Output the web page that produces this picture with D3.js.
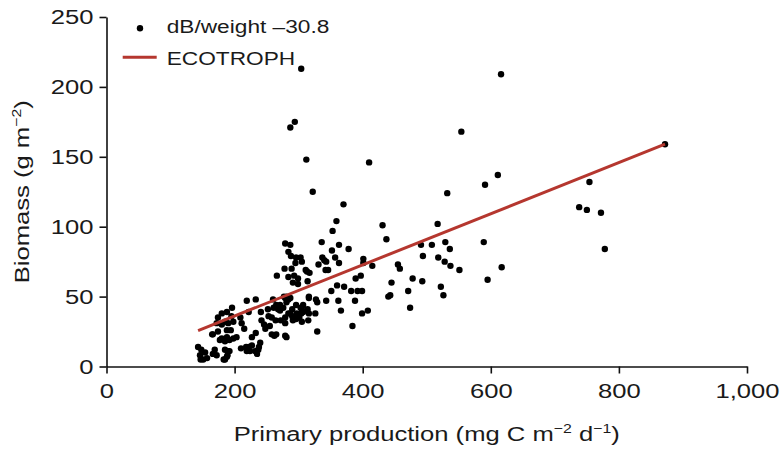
<!DOCTYPE html>
<html><head><meta charset="utf-8">
<script src="https://cdn.jsdelivr.net/npm/d3@7"></script>
<style>body{margin:0;background:#fff}svg{display:block}text{font-family:"Liberation Sans",Arial,sans-serif;fill:#1a1a1a}</style>
</head><body>
<script>
// Data: primary production (mg C m-2 d-1) vs biomass (g m-2)
const ppValues = [872,754,738,750,772,778,616,554,611,591,532,431,437,517,491,508,529,536,589,494,518,528,537,551,617,455,458,478,493,445,471,440,443,522,526,595,474,
322,370,359,353,336,352,363,378,357,337,340,343,363,331,303,305,342,346,311,317,401,401,415,397,389,360,371,316,351,382,392,399,327,329,343,362,388,307,305,307,326,366,399,408,305,329,384,
304,294,287,312,410,279,287,284,288,296,295,313,278,289,266,284,293,299,314,291,299,
260,279,281,284,281,316,219,233,196,222,241,252,261,268,271,296,303,297,304,301,290,296,279,284,290,272,279,315,316,314,253,258,264,242,246,248,195,198,209,211,215,190,188,194,203,192,185,227,233,262,265,279,281,210,218,222,227,219,224,232,237,238,240,235,192,189,185,
174,180,188,172,180,185,165,174,180,188,177,143,148,154,146,151,157,147,169,172,166,183,185,190,188,166,198,265,271,276,287,291,255,258,277,287];
const biomassValues = [159,132,114,112,110,84,209,168,137,130,124,101,91,102,87,87,89,84,89,79,78,75,72,69,71,73,70,63,61,60,54,50,51,57,51,62,42,
125,116,104,97,89,83,87,84,78,78,76,75,74,73,78,75,69,69,69,67,77,74,72,65,63,58,57,50,54,54,54,54,48,46,47,47,47,44,41,39,38,40,38,40,32,25,29,
213,175,171,148,146,88,87,82,79,78,74,68,70,70,65,64,65,63,61,60,59,
48,49,50,48,46,49,47,48,42,39,39,41,42,41,44,44,42,38,38,35,36,34,35,38,41,33,31,33,38,41,36,35,33,33,30,27,36,32,35,31,27,31,26,26,21,19,18,21,24,22,23,22,21,13,14,14,15,11,11,11,12,14,17,9,11,8,5,
35,38,39,31,30,32,23,25,20,21,19,14,12,10,8,5,6,5,12,8,9,5,12,11,7,23,20,44,40,42,38,33,29,23,50,49];
const ecotrophX = [143, 872];
const ecotrophY = [25.7, 159];
const xTickValues = [0,200,400,600,800,1000];
const yTickValues = [0,50,100,150,200,250];
const legendLabels = ["dB/weight \u201330.8", "ECOTROPH"];

const W = 781, H = 449, SX = 1.22;
const svg = d3.select("body").append("svg").attr("width", W).attr("height", H);
const x = d3.scaleLinear().domain([0, 1000]).range([106.5, 747]);
const y = d3.scaleLinear().domain([0, 250]).range([366.5, 17]);

// points
svg.append("g").selectAll("circle").data(ppValues.map((v,i)=>[v, biomassValues[i]]))
  .join("circle").attr("cx", d=>x(d[0])).attr("cy", d=>y(d[1])).attr("r", 3.2).attr("fill", "#000");

// ECOTROPH line
svg.append("path").datum(ecotrophX.map((v,i)=>[v, ecotrophY[i]]))
  .attr("d", d3.line().x(d=>x(d[0])).y(d=>y(d[1])))
  .attr("stroke", "#b5372f").attr("stroke-width", 3).attr("fill", "none");

// axes
const gx = svg.append("g").attr("transform", `translate(0,${y(0)})`)
  .call(d3.axisBottom(x).tickValues(xTickValues).tickFormat(d3.format(",")).tickSizeInner(7).tickSizeOuter(0).tickPadding(8));
const gy = svg.append("g").attr("transform", `translate(${x(0)},0)`)
  .call(d3.axisLeft(y).tickValues(yTickValues).tickSizeInner(7).tickSizeOuter(0).tickPadding(6));
[gx, gy].forEach(g => {
  g.select(".domain").attr("stroke", "#111").attr("stroke-width", 1.6);
  g.selectAll(".tick line").attr("stroke", "#111").attr("stroke-width", 1.6);
  g.selectAll("text").attr("font-size", 21).attr("fill", "#1a1a1a").attr("font-family", "Liberation Sans, Arial, sans-serif");
});
gx.selectAll(".tick text").attr("transform", `scale(${SX},1)`).attr("dy", "0.78em");
gy.selectAll(".tick text").attr("x", -13 / SX).attr("transform", `scale(${SX},1)`);

// legend
svg.append("circle").attr("cx", 140).attr("cy", 28.3).attr("r", 3.2).attr("fill", "#000");
svg.append("line").attr("x1", 122.7).attr("x2", 156.7).attr("y1", 57.3).attr("y2", 57.3)
  .attr("stroke", "#b5372f").attr("stroke-width", 3);
[[legendLabels[0], 33], [legendLabels[1], 64.5]].forEach(([t, yy]) => {
  svg.append("text").attr("transform", `translate(166.7,${yy}) scale(${SX},1)`).attr("font-size", 18.6).text(t);
});

// axis titles
const xt = svg.append("text").attr("transform", `translate(${(x(0)+x(1000))/2},441) scale(${SX},1)`)
  .attr("text-anchor", "middle").attr("font-size", 21);
xt.append("tspan").text("Primary production (mg C m");
xt.append("tspan").attr("font-size", 13).attr("dy", -8).text("\u22122");
xt.append("tspan").attr("dy", 8).text(" d");
xt.append("tspan").attr("font-size", 13).attr("dy", -8).text("\u22121");
xt.append("tspan").attr("dy", 8).text(")");

const yt = svg.append("text").attr("transform", `translate(29,${y(125)}) rotate(-90) scale(${SX},1)`)
  .attr("text-anchor", "middle").attr("font-size", 21);
yt.append("tspan").text("Biomass (g m");
yt.append("tspan").attr("font-size", 13).attr("dy", -8).text("\u22122");
yt.append("tspan").attr("dy", 8).text(")");
</script>
</body></html>
